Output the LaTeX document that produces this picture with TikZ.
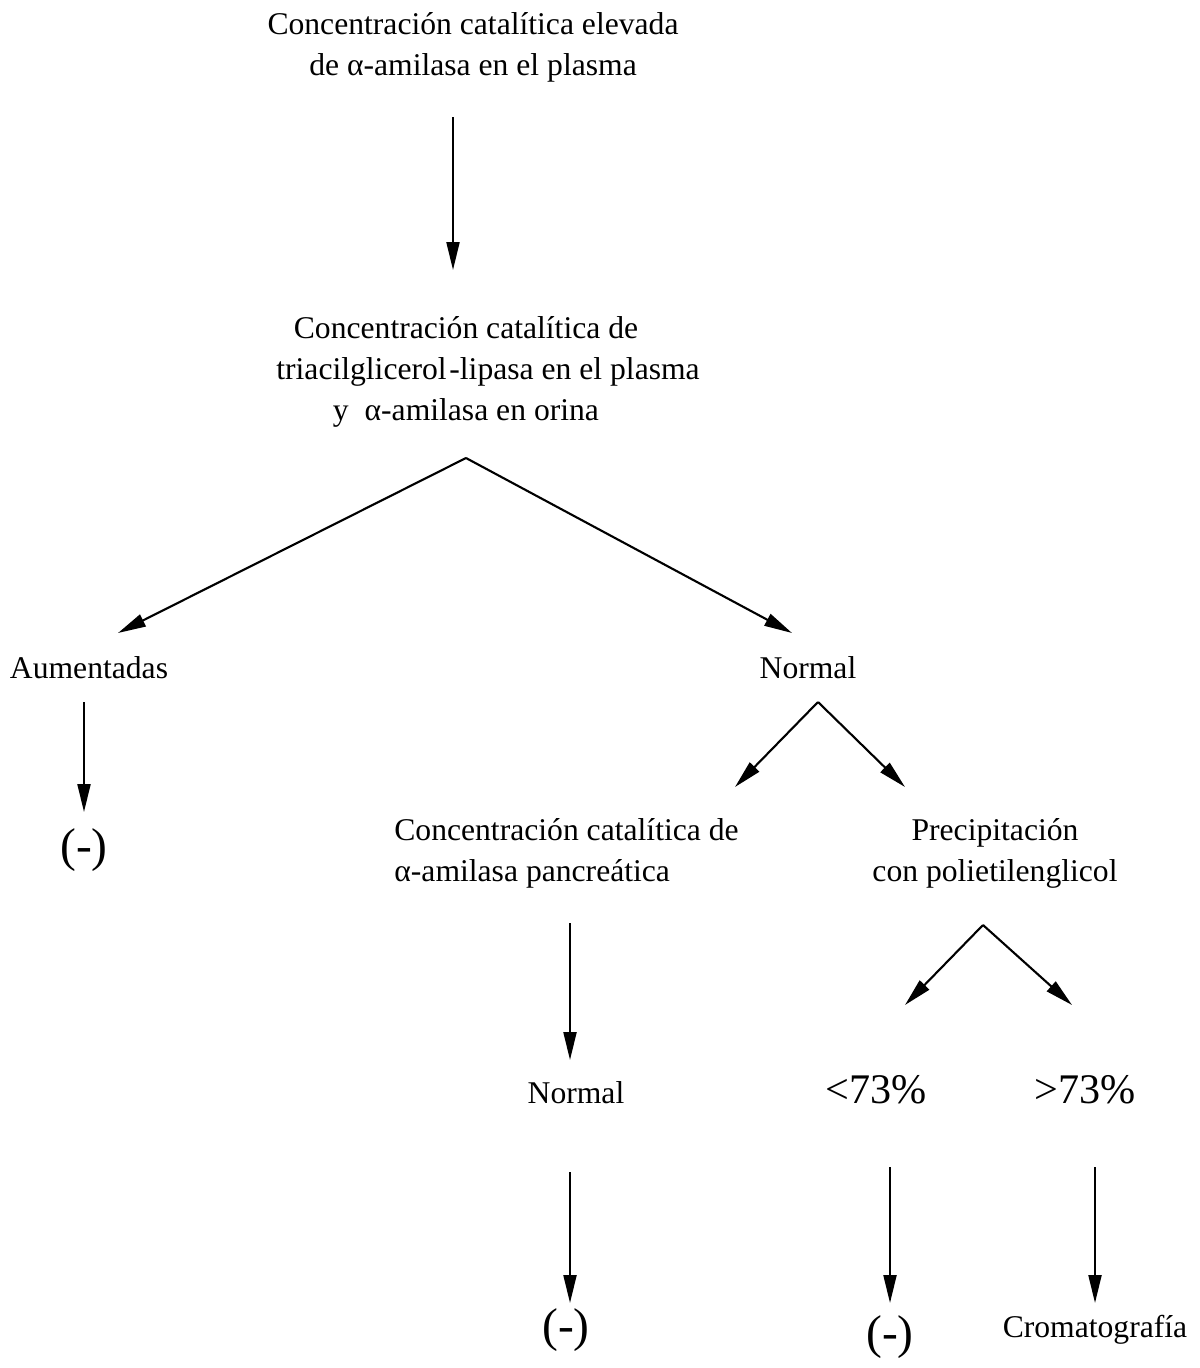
\documentclass[tikz,border=0pt]{standalone}
\usepackage{fontspec}
\setmainfont{Liberation Serif}
\usepackage{tikz}
\usetikzlibrary{arrows.meta}
\tikzset{txt/.style={inner sep=0pt,align=center,font=\fontsize{18}{23.3}\selectfont}}
\tikzset{bigtxt/.style={inner sep=0pt,font=\fontsize{24}{28}\selectfont}}
\tikzset{neg/.style={inner sep=0pt,font=\fontsize{27}{30}\selectfont}}
\tikzset{arr/.style={line width=1.2pt,-{Triangle[width=0.26cm,length=0.56cm]}}}

\begin{document}
\begin{tikzpicture}
                    \useasboundingbox (0,0) rectangle (24,-27.36);

                    \node[txt] (elev) at (9.46,-0.94) {Concentración catalítica elevada\\de α-amilasa en el plasma};
                    \node[txt] (lip) at (9.32,-7.44) {Concentración catalítica de\\\hspace*{0.88cm}triacilglicerol\kern1.5pt-lipasa en el plasma\\y\ \ α-amilasa en orina};
                    \node[txt] (aum) at (1.78,-13.36) {Aumentadas};
                    \node[txt] (norm) at (16.16,-13.36) {Normal};
                    \node[neg] (negA) at (1.68,-17.0) {(-)};
                    \node[txt,align=left,anchor=west] (panc) at (7.88,-17.06) {Concentración catalítica de\\α-amilasa pancreática};
                    \node[txt] (prec) at (19.9,-17.06) {Precipitación\\con polietilenglicol};
                    \node[txt] (normB) at (11.52,-21.86) {Normal};
                    \node[neg] (negB) at (11.32,-26.6) {(-)};
                    \node[bigtxt] (less) at (17.52,-21.8) {<73\%};
                    \node[bigtxt] (more) at (21.7,-21.8) {>73\%};
                    \node[neg] (negC) at (17.8,-26.74) {(-)};
                    \node[txt] (crom) at (21.9,-26.6) {Cromatografía};

                    % arrow ends
                    \coordinate (elevout) at (9.06,-2.34);
                    \coordinate (lipin) at (9.06,-5.4);
                    \coordinate (lipout) at (9.32,-9.16);
                    \coordinate (aumin) at (2.36,-12.66);
                    \coordinate (normin) at (15.84,-12.66);
                    \coordinate (aumout) at (1.68,-14.04);
                    \coordinate (negAin) at (1.68,-16.24);
                    \coordinate (normout) at (16.36,-14.04);
                    \coordinate (pancin) at (14.7,-15.74);
                    \coordinate (precin) at (18.1,-15.74);
                    \coordinate (pancout) at (11.4,-18.46);
                    \coordinate (normBin) at (11.4,-21.2);
                    \coordinate (normBout) at (11.4,-23.44);
                    \coordinate (negBin) at (11.4,-26.06);
                    \coordinate (precout) at (19.66,-18.5);
                    \coordinate (lessin) at (18.1,-20.1);
                    \coordinate (morein) at (21.44,-20.1);
                    \coordinate (lessout) at (17.8,-23.34);
                    \coordinate (negCin) at (17.8,-26.06);
                    \coordinate (moreout) at (21.9,-23.34);
                    \coordinate (cromin) at (21.9,-26.06);

                    \draw[arr] (elevout) -- (lipin);
                    \draw[arr] (lipout) -- (aumin);
                    \draw[arr] (lipout) -- (normin);
                    \draw[arr] (aumout) -- (negAin);
                    \draw[arr] (normout) -- (pancin);
                    \draw[arr] (normout) -- (precin);
                    \draw[arr] (pancout) -- (normBin);
                    \draw[arr] (normBout) -- (negBin);
                    \draw[arr] (precout) -- (lessin);
                    \draw[arr] (precout) -- (morein);
                    \draw[arr] (lessout) -- (negCin);
                    \draw[arr] (moreout) -- (cromin);
                \end{tikzpicture}
\end{document}
